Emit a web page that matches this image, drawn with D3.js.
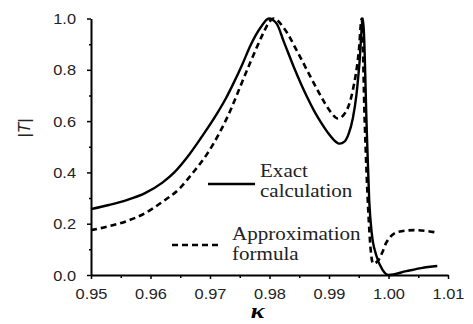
<!DOCTYPE html>
<html>
<head>
<meta charset="utf-8">
<script src="https://cdn.jsdelivr.net/npm/d3@7"></script>
<style>
  body { margin: 0; background: #fff; }
  svg { display: block; }
</style>
</head>
<body>
<svg id="chart" width="473" height="324"></svg>
<script>
// values
const kExact = [0.950, 0.953, 0.956, 0.959, 0.962, 0.964, 0.9662, 0.9685, 0.9712, 0.9727, 0.974, 0.9755, 0.9768, 0.9785, 0.9799,
  0.9812, 0.9824, 0.9841, 0.9853, 0.9864, 0.9875, 0.9887, 0.9898, 0.9908, 0.9918, 0.9926, 0.9933, 0.994, 0.9946, 0.9951, 0.9957,
  0.99637, 0.99676, 0.9972, 0.9979, 0.999, 1.000, 1.003, 1.0055, 1.0082];
const tExact = [0.257, 0.273, 0.292, 0.318, 0.36, 0.40, 0.46, 0.535, 0.63, 0.69, 0.75, 0.825, 0.895, 0.965, 1.0,
  0.98, 0.91, 0.81, 0.745, 0.69, 0.64, 0.593, 0.555, 0.527, 0.512, 0.52, 0.55, 0.61, 0.70, 0.82, 1.0,
  0.55, 0.29, 0.16, 0.08, 0.02, 0.0, 0.015, 0.027, 0.035];

const kApprox = [0.950, 0.953, 0.956, 0.959, 0.962, 0.965, 0.967, 0.9696, 0.9715, 0.9734, 0.975, 0.9768, 0.979, 0.9799, 0.9807,
  0.9825, 0.9847, 0.9865, 0.9881, 0.9893, 0.9903, 0.9915, 0.9928, 0.994, 0.995, 0.9955,
  0.996, 0.9966, 0.997, 0.9974, 0.998, 0.999, 0.9996, 1.0016, 1.0044, 1.0083];
const tApprox = [0.175, 0.19, 0.21, 0.24, 0.285, 0.34, 0.395, 0.475, 0.55, 0.64, 0.73, 0.83, 0.945, 0.985, 1.0,
  0.96, 0.87, 0.79, 0.72, 0.67, 0.635, 0.61, 0.635, 0.72, 0.87, 1.0,
  0.6, 0.25, 0.1, 0.045, 0.05, 0.09, 0.125, 0.168, 0.175, 0.165];

const xTicks = [0.95, 0.96, 0.97, 0.98, 0.99, 1.00, 1.01];
const xMinor = [0.955, 0.965, 0.975, 0.985, 0.995, 1.005];
const yTicks = [0.0, 0.2, 0.4, 0.6, 0.8, 1.0];
const yMinor = [0.1, 0.3, 0.5, 0.7, 0.9];
const legendLabels = [["Exact", "calculation"], ["Approximation", "formula"]];

const svg = d3.select("#chart");
const x = d3.scaleLinear().domain([0.95, 1.01]).range([91, 448]);
const y = d3.scaleLinear().domain([0, 1]).range([275, 18.5]);
const sx = 1.17; // picture is stretched horizontally

// axes
const xAxis = svg.append("g")
    .attr("transform", `translate(0,${y(0)})`)
    .call(d3.axisBottom(x).tickValues(xTicks).tickSize(4).tickSizeOuter(0).tickFormat(d3.format(".2f")));
svg.append("g")
    .attr("transform", `translate(0,${y(0)})`)
    .call(d3.axisBottom(x).tickValues(xMinor).tickSize(3).tickSizeOuter(0).tickFormat(""))
    .select(".domain").remove();

const yAxis = svg.append("g")
    .attr("transform", `translate(${x(0.95)},0)`)
    .call(d3.axisLeft(y).tickValues(yTicks).tickSize(4).tickSizeOuter(0).tickFormat(d3.format(".1f")));
svg.append("g")
    .attr("transform", `translate(${x(0.95)},0)`)
    .call(d3.axisLeft(y).tickValues(yMinor).tickSize(2).tickSizeOuter(0).tickFormat(""))
    .select(".domain").remove();

svg.selectAll(".domain").attr("stroke", "#000").attr("stroke-width", 2);
svg.selectAll(".tick line").attr("stroke", "#000").attr("stroke-width", 1.5);

xAxis.selectAll("text")
    .attr("y", 0).attr("dy", 0)
    .attr("transform", `translate(0,24) scale(${sx},1)`)
    .style("font-family", "Liberation Sans, Arial, sans-serif")
    .style("font-size", "14px")
    .attr("fill", "#222");

yAxis.selectAll("text")
    .attr("x", 0).attr("dy", "0.36em")
    .attr("transform", `translate(-15,0) scale(${sx},1)`)
    .style("font-family", "Liberation Sans, Arial, sans-serif")
    .style("font-size", "14px")
    .attr("fill", "#222");

// curves
const line = d3.line()
    .x(d => x(d[0]))
    .y(d => y(d[1]))
    .curve(d3.curveMonotoneX);

svg.append("path")
    .datum(d3.zip(kExact, tExact))
    .attr("d", line)
    .attr("fill", "none")
    .attr("stroke", "#000")
    .attr("stroke-width", 2.4);

svg.append("path")
    .datum(d3.zip(kApprox, tApprox))
    .attr("d", line)
    .attr("fill", "none")
    .attr("stroke", "#000")
    .attr("stroke-width", 2.6)
    .attr("stroke-dasharray", "6,4");

// legend
const legend = [
  { x1: 208, x2: 255, ly: 184, tx: 260, ty: 177, dash: null },
  { x1: 172, x2: 220, ly: 245, tx: 232, ty: 240, dash: "6,4" }
];
legend.forEach((l, i) => {
  svg.append("line")
      .attr("x1", l.x1).attr("x2", l.x2)
      .attr("y1", l.ly).attr("y2", l.ly)
      .attr("stroke", "#000").attr("stroke-width", 2.4)
      .attr("stroke-dasharray", l.dash);
  const t = svg.append("text")
      .attr("transform", `translate(${l.tx},${l.ty}) scale(${sx},1)`)
      .style("font-family", "Liberation Serif, Times New Roman, serif")
      .style("font-size", "18px")
      .attr("fill", "#222");
  legendLabels[i].forEach((s, j) => {
    t.append("tspan").attr("x", 0).attr("y", j * 20.5).text(s);
  });
});

// axis titles
svg.append("text")
    .attr("transform", `translate(${x(0.978)},318) scale(${sx},1)`)
    .attr("text-anchor", "middle")
    .style("font-family", "Liberation Serif, Times New Roman, serif")
    .style("font-size", "22px")
    .style("font-style", "italic")
    .style("font-weight", "bold")
    .text("κ");

const yt = svg.append("text")
    .attr("transform", "translate(30,128) rotate(-90)")
    .attr("text-anchor", "middle")
    .style("font-family", "Liberation Sans, Arial, sans-serif")
    .style("font-size", "17px")
    .attr("fill", "#222");
yt.append("tspan").text("|");
yt.append("tspan").style("font-style", "italic").text("T");
yt.append("tspan").text("|");
</script>
</body>
</html>
